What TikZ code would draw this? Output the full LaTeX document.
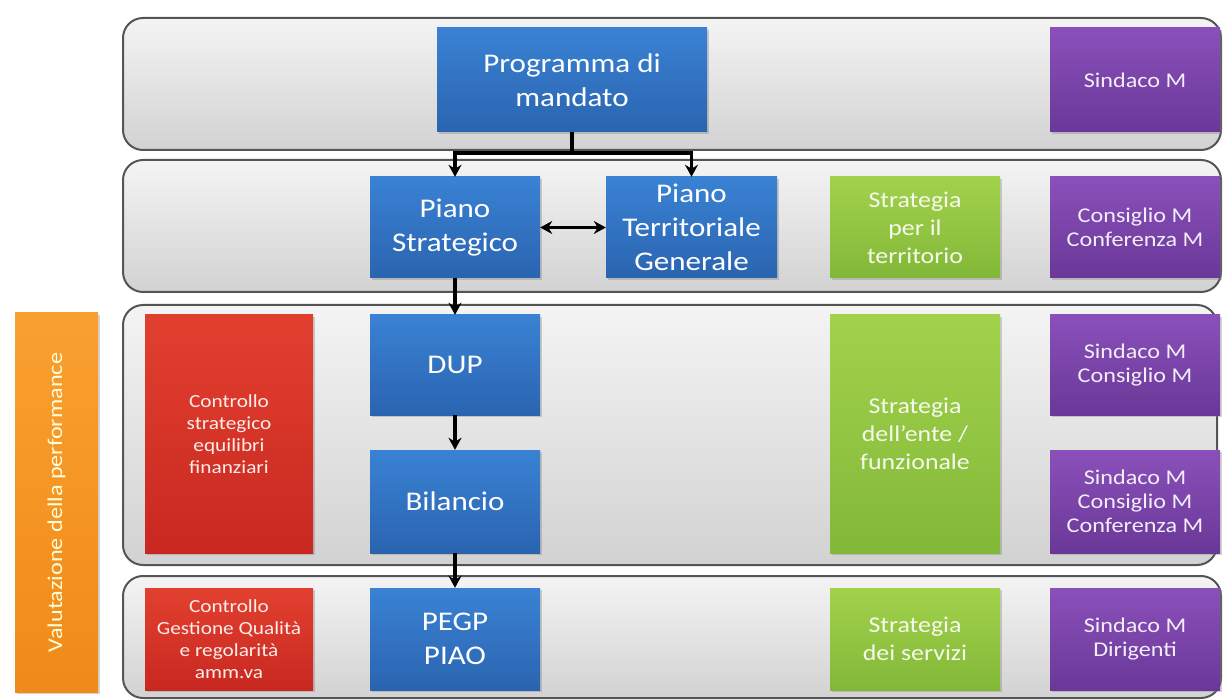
\documentclass[tikz,border=0pt]{standalone}
\usepackage{fontspec}
\setmainfont{Carlito}[FakeStretch=1.15]
\usetikzlibrary{arrows.meta,shadows}
\definecolor{bandtop}{HTML}{F4F4F4}
\definecolor{bandbot}{HTML}{D2D2D2}
\definecolor{bandline}{HTML}{555555}
\definecolor{bluetop}{HTML}{3A82D4}
\definecolor{bluebot}{HTML}{2A64B0}
\definecolor{purtop}{HTML}{8A50BA}
\definecolor{purbot}{HTML}{6A3898}
\definecolor{grntop}{HTML}{A2D24C}
\definecolor{grnbot}{HTML}{82B838}
\definecolor{redtop}{HTML}{E2402F}
\definecolor{redbot}{HTML}{C82820}
\definecolor{orgtop}{HTML}{F9A030}
\definecolor{orgbot}{HTML}{F08A18}
\tikzset{
  band/.style={draw=bandline, line width=2pt, rounded corners=20pt, top color=bandtop, bottom color=bandbot},
  box/.style={rectangle, inner sep=0pt, align=center, text=white,
    drop shadow={opacity=0.35, shadow xshift=2pt, shadow yshift=-2pt}},
  bluebox/.style={box, top color=bluetop, bottom color=bluebot, font=\fontsize{27}{34}\selectfont},
  purplebox/.style={box, top color=purtop, bottom color=purbot, text=white!90!purtop, font=\fontsize{21}{24}\selectfont},
  greenbox/.style={box, top color=grntop, bottom color=grnbot, text=white!90!grntop, font=\fontsize{22.5}{28}\selectfont},
  redbox/.style={box, top color=redtop, bottom color=redbot, text=white!90!redtop, font=\fontsize{18.5}{22}\selectfont},
  orangebox/.style={box, top color=orgtop, bottom color=orgbot},
  conn/.style={line width=3.6pt, -{Stealth[length=12pt,width=13pt]}},
  conn2/.style={line width=3.6pt, {Stealth[length=12pt,width=13pt]}-{Stealth[length=12pt,width=13pt]}}
}
\begin{document}
\begin{tikzpicture}[x=1pt,y=-1pt]
\useasboundingbox (0,0) rectangle (1223,700);
% bands
\path[band] (123,18) rectangle (1221,150);
\path[band] (123,160) rectangle (1221,292);
\path[band] (123,305) rectangle (1217,565);
\path[band] (123,576) rectangle (1221,698);
% orange bar
\node[orangebox, minimum width=83pt, minimum height=379pt] (val) at (56.5,502.5) {};
\node[rotate=90, text=white!85!yellow, font=\fontsize{21}{24}\selectfont] (valt) at (val.center) {Valutazione della performance};
% blue
\node[bluebox, minimum width=270pt, minimum height=104pt] (prog) at (572,80) {Programma di\\mandato};
\node[bluebox, minimum width=170pt, minimum height=101pt] (ps) at (455,227.5) {Piano\\Strategico};
\node[bluebox, minimum width=171pt, minimum height=101pt] (ptg) at (691.5,227.5) {Piano\\Territoriale\\Generale};
\node[bluebox, minimum width=170pt, minimum height=100pt] (dup) at (455,365) {DUP};
\node[bluebox, minimum width=170pt, minimum height=103pt] (bil) at (455,501.5) {Bilancio};
\node[bluebox, minimum width=170pt, minimum height=102pt] (pegp) at (455,639) {PEGP\\PIAO};
% green
\node[greenbox, minimum width=170pt, minimum height=101pt] (sterr) at (915,227.5) {Strategia\\per il\\territorio};
\node[greenbox, minimum width=170pt, minimum height=238pt] (sente) at (915,434) {Strategia\\dell'ente /\\funzionale};
\node[greenbox, minimum width=170pt, minimum height=102pt] (sserv) at (915,639) {Strategia\\dei servizi};
% purple
\node[purplebox, minimum width=170pt, minimum height=104pt] (sind) at (1135,80) {Sindaco M};
\node[purplebox, minimum width=170pt, minimum height=101pt] (cons) at (1135,227.5) {Consiglio M\\Conferenza M};
\node[purplebox, minimum width=170pt, minimum height=100pt] (sc) at (1135,365) {Sindaco M\\Consiglio M};
\node[purplebox, minimum width=170pt, minimum height=103pt] (scc) at (1135,501.5) {Sindaco M\\Consiglio M\\Conferenza M};
\node[purplebox, minimum width=170pt, minimum height=102pt] (sd) at (1135,639) {Sindaco M\\Dirigenti};
% red
\node[redbox, minimum width=168pt, minimum height=238pt] (r1) at (229,434) {Controllo\\strategico\\equilibri\\finanziari};
\node[redbox, minimum width=168pt, minimum height=102pt] (r2) at (229,639) {Controllo\\Gestione Qualità\\e regolarità\\amm.va};
% connectors
\draw[line width=3.6pt] (prog.south) -- ++(0,21) coordinate (j);
\draw[conn] (j) -| (ps.north);
\draw[conn] (j) -| (ptg.north);
\draw[conn2] (ps.east) -- (ptg.west);
\draw[conn] (ps.south) -- (dup.north);
\draw[conn] (dup.south) -- (bil.north);
\draw[conn] (bil.south) -- (pegp.north);
\end{tikzpicture}
\end{document}
